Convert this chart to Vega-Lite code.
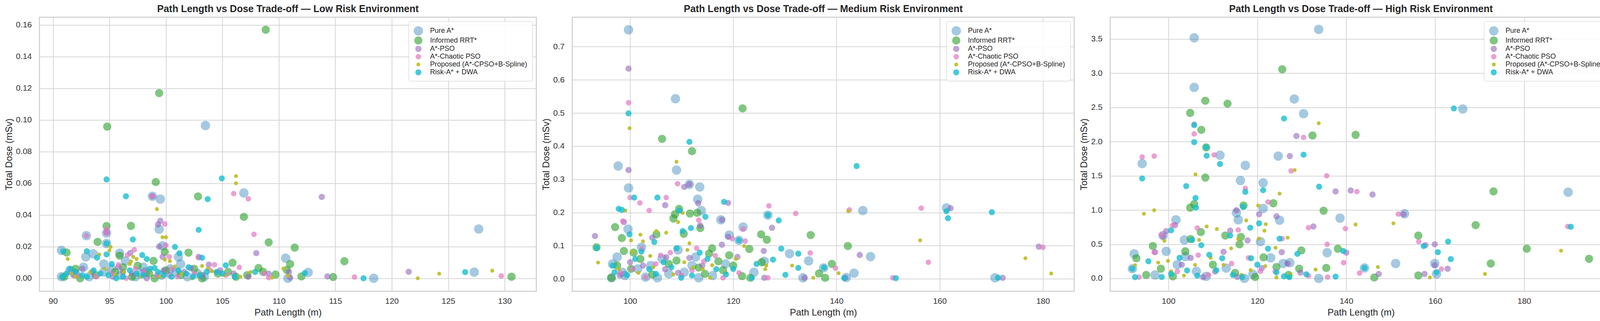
{
"$schema": "https://vega.github.io/schema/vega-lite/v6.json",
"background": "white",
"padding": {"left": 9, "top": 9, "right": 5, "bottom": 5},
"bounds": "flush",
"spacing": 92,
"config": {
  "font": "Liberation Sans",
  "view": {"stroke": "#cccccc", "strokeWidth": 2.5},
  "axis": {"grid": true, "gridColor": "#d5d5d5", "gridWidth": 2, "domain": false, "ticks": false, "tickSize": 0, "labelFontSize": 21, "labelColor": "#333333", "titleFontSize": 24, "titleFontWeight": "normal", "titleColor": "#262626"},
  "axisY": {"titlePadding": 5, "labelPadding": 20},
  "axisX": {"titlePadding": 7, "labelPadding": 14},
  "title": {"fontSize": 25, "fontWeight": "bold", "color": "#262626", "offset": 8},
  "legend": {"orient": "top-right", "offset": 10, "labelFontSize": 18, "labelLimit": 500, "labelColor": "#262626", "strokeColor": "#cccccc", "fillColor": "rgba(255,255,255,0.85)", "padding": 13, "cornerRadius": 4, "labelOffset": 18, "rowPadding": 2, "symbolStrokeWidth": 0}
},
"datasets": {"d": [
{"e":"Low","m":"Pure A*","x":103.5,"y":0.0965},{"e":"Low","m":"Pure A*","x":99.5,"y":0.05},{"e":"Low","m":"Pure A*","x":106.9,"y":0.0539},{"e":"Low","m":"Pure A*","x":98.8,"y":0.0518},{"e":"Low","m":"Pure A*","x":99.4,"y":0.031},{"e":"Low","m":"Pure A*","x":94.74,"y":0.0286},{"e":"Low","m":"Pure A*","x":92.95,"y":0.0269},{"e":"Low","m":"Pure A*","x":94.74,"y":0.022},{"e":"Low","m":"Pure A*","x":90.75,"y":0.0176},{"e":"Low","m":"Pure A*","x":93.56,"y":0.0155},{"e":"Low","m":"Pure A*","x":95.9,"y":0.0159},{"e":"Low","m":"Pure A*","x":92.9,"y":0.0135},{"e":"Low","m":"Pure A*","x":101.1,"y":0.0135},{"e":"Low","m":"Pure A*","x":101.3,"y":0.009},{"e":"Low","m":"Pure A*","x":110.6,"y":0.0127},{"e":"Low","m":"Pure A*","x":112.6,"y":0.0037},{"e":"Low","m":"Pure A*","x":110.8,"y":0.0},{"e":"Low","m":"Pure A*","x":118.4,"y":0.0},{"e":"Low","m":"Pure A*","x":127.3,"y":0.0039},{"e":"Low","m":"Pure A*","x":127.7,"y":0.0311},{"e":"Low","m":"Pure A*","x":90.75,"y":0.001},{"e":"Low","m":"Pure A*","x":92.0,"y":0.003},{"e":"Low","m":"Pure A*","x":93.2,"y":0.001},{"e":"Low","m":"Pure A*","x":94.5,"y":0.004},{"e":"Low","m":"Pure A*","x":96.0,"y":0.002},{"e":"Low","m":"Pure A*","x":97.3,"y":0.001},{"e":"Low","m":"Pure A*","x":98.2,"y":0.004},{"e":"Low","m":"Pure A*","x":99.6,"y":0.002},{"e":"Low","m":"Pure A*","x":100.4,"y":0.006},{"e":"Low","m":"Pure A*","x":101.9,"y":0.001},{"e":"Low","m":"Pure A*","x":102.8,"y":0.003},{"e":"Low","m":"Pure A*","x":99.7,"y":0.0205},{"e":"Low","m":"Pure A*","x":96.4,"y":0.011},{"e":"Low","m":"Pure A*","x":94.5,"y":0.009},{"e":"Low","m":"Pure A*","x":98.0,"y":0.007},{"e":"Low","m":"Pure A*","x":91.5,"y":0.005},{"e":"Low","m":"Pure A*","x":95.2,"y":0.006},{"e":"Low","m":"Pure A*","x":97.8,"y":0.003},{"e":"Low","m":"Pure A*","x":100.9,"y":0.004},{"e":"Low","m":"Pure A*","x":103.4,"y":0.001},{"e":"Low","m":"Pure A*","x":92.7,"y":0.007},
{"e":"Low","m":"Informed RRT*","x":108.84,"y":0.157},{"e":"Low","m":"Informed RRT*","x":99.4,"y":0.117},{"e":"Low","m":"Informed RRT*","x":94.8,"y":0.0958},{"e":"Low","m":"Informed RRT*","x":99.1,"y":0.0608},{"e":"Low","m":"Informed RRT*","x":102.84,"y":0.0517},{"e":"Low","m":"Informed RRT*","x":106.9,"y":0.0388},{"e":"Low","m":"Informed RRT*","x":96.9,"y":0.0331},{"e":"Low","m":"Informed RRT*","x":94.74,"y":0.033},{"e":"Low","m":"Informed RRT*","x":93.95,"y":0.023},{"e":"Low","m":"Informed RRT*","x":109.1,"y":0.0227},{"e":"Low","m":"Informed RRT*","x":111.4,"y":0.0194},{"e":"Low","m":"Informed RRT*","x":91.2,"y":0.0163},{"e":"Low","m":"Informed RRT*","x":95.9,"y":0.0143},{"e":"Low","m":"Informed RRT*","x":99.9,"y":0.0167},{"e":"Low","m":"Informed RRT*","x":102.0,"y":0.0162},{"e":"Low","m":"Informed RRT*","x":98.9,"y":0.011},{"e":"Low","m":"Informed RRT*","x":111.0,"y":0.009},{"e":"Low","m":"Informed RRT*","x":115.8,"y":0.0108},{"e":"Low","m":"Informed RRT*","x":105.9,"y":0.0098},{"e":"Low","m":"Informed RRT*","x":108.2,"y":0.0065},{"e":"Low","m":"Informed RRT*","x":108.6,"y":0.0041},{"e":"Low","m":"Informed RRT*","x":109.7,"y":0.0024},{"e":"Low","m":"Informed RRT*","x":112.0,"y":0.0012},{"e":"Low","m":"Informed RRT*","x":114.8,"y":0.0008},{"e":"Low","m":"Informed RRT*","x":130.6,"y":0.001},{"e":"Low","m":"Informed RRT*","x":91.0,"y":0.001},{"e":"Low","m":"Informed RRT*","x":92.4,"y":0.0},{"e":"Low","m":"Informed RRT*","x":93.8,"y":0.002},{"e":"Low","m":"Informed RRT*","x":95.5,"y":0.004},{"e":"Low","m":"Informed RRT*","x":97.0,"y":0.001},{"e":"Low","m":"Informed RRT*","x":98.5,"y":0.003},{"e":"Low","m":"Informed RRT*","x":100.0,"y":0.005},{"e":"Low","m":"Informed RRT*","x":101.3,"y":0.002},{"e":"Low","m":"Informed RRT*","x":103.2,"y":0.0},{"e":"Low","m":"Informed RRT*","x":104.6,"y":0.003},{"e":"Low","m":"Informed RRT*","x":106.2,"y":0.001},{"e":"Low","m":"Informed RRT*","x":97.5,"y":0.008},{"e":"Low","m":"Informed RRT*","x":110.7,"y":0.0053},{"e":"Low","m":"Informed RRT*","x":92.0,"y":0.006},{"e":"Low","m":"Informed RRT*","x":96.2,"y":0.007},{"e":"Low","m":"Informed RRT*","x":99.0,"y":0.0},{"e":"Low","m":"Informed RRT*","x":102.5,"y":0.006},{"e":"Low","m":"Informed RRT*","x":105.5,"y":0.004},{"e":"Low","m":"Informed RRT*","x":107.2,"y":0.002},
{"e":"Low","m":"A*-PSO","x":113.8,"y":0.0514},{"e":"Low","m":"A*-PSO","x":98.8,"y":0.0518},{"e":"Low","m":"A*-PSO","x":99.5,"y":0.0363},{"e":"Low","m":"A*-PSO","x":99.4,"y":0.02},{"e":"Low","m":"A*-PSO","x":96.85,"y":0.016},{"e":"Low","m":"A*-PSO","x":99.7,"y":0.0135},{"e":"Low","m":"A*-PSO","x":102.9,"y":0.0135},{"e":"Low","m":"A*-PSO","x":108.0,"y":0.0159},{"e":"Low","m":"A*-PSO","x":103.8,"y":0.0086},{"e":"Low","m":"A*-PSO","x":109.1,"y":0.0029},{"e":"Low","m":"A*-PSO","x":111.0,"y":0.0004},{"e":"Low","m":"A*-PSO","x":114.3,"y":0.0012},{"e":"Low","m":"A*-PSO","x":121.5,"y":0.0041},{"e":"Low","m":"A*-PSO","x":94.74,"y":0.029},{"e":"Low","m":"A*-PSO","x":99.3,"y":0.034},{"e":"Low","m":"A*-PSO","x":91.8,"y":0.002},{"e":"Low","m":"A*-PSO","x":93.5,"y":0.004},{"e":"Low","m":"A*-PSO","x":95.3,"y":0.001},{"e":"Low","m":"A*-PSO","x":97.0,"y":0.003},{"e":"Low","m":"A*-PSO","x":98.3,"y":0.0},{"e":"Low","m":"A*-PSO","x":100.3,"y":0.002},{"e":"Low","m":"A*-PSO","x":101.6,"y":0.004},{"e":"Low","m":"A*-PSO","x":104.8,"y":0.005},{"e":"Low","m":"A*-PSO","x":106.0,"y":0.003},{"e":"Low","m":"A*-PSO","x":107.3,"y":0.001},{"e":"Low","m":"A*-PSO","x":95.8,"y":0.007},{"e":"Low","m":"A*-PSO","x":102.2,"y":0.0065},{"e":"Low","m":"A*-PSO","x":110.9,"y":0.004},{"e":"Low","m":"A*-PSO","x":92.6,"y":0.006},{"e":"Low","m":"A*-PSO","x":96.2,"y":0.004},{"e":"Low","m":"A*-PSO","x":99.8,"y":0.005},{"e":"Low","m":"A*-PSO","x":103.2,"y":0.002},
{"e":"Low","m":"A*-Chaotic PSO","x":106.0,"y":0.0535},{"e":"Low","m":"A*-Chaotic PSO","x":107.3,"y":0.0502},{"e":"Low","m":"A*-Chaotic PSO","x":98.8,"y":0.0518},{"e":"Low","m":"A*-Chaotic PSO","x":99.9,"y":0.0343},{"e":"Low","m":"A*-Chaotic PSO","x":94.74,"y":0.031},{"e":"Low","m":"A*-Chaotic PSO","x":94.74,"y":0.0285},{"e":"Low","m":"A*-Chaotic PSO","x":92.95,"y":0.0269},{"e":"Low","m":"A*-Chaotic PSO","x":107.8,"y":0.0278},{"e":"Low","m":"A*-Chaotic PSO","x":100.0,"y":0.0208},{"e":"Low","m":"A*-Chaotic PSO","x":96.6,"y":0.0147},{"e":"Low","m":"A*-Chaotic PSO","x":100.3,"y":0.0135},{"e":"Low","m":"A*-Chaotic PSO","x":102.9,"y":0.013},{"e":"Low","m":"A*-Chaotic PSO","x":104.3,"y":0.0086},{"e":"Low","m":"A*-Chaotic PSO","x":106.5,"y":0.0069},{"e":"Low","m":"A*-Chaotic PSO","x":109.1,"y":0.0004},{"e":"Low","m":"A*-Chaotic PSO","x":116.7,"y":0.0008},{"e":"Low","m":"A*-Chaotic PSO","x":129.7,"y":0.0015},{"e":"Low","m":"A*-Chaotic PSO","x":97.2,"y":0.018},{"e":"Low","m":"A*-Chaotic PSO","x":92.2,"y":0.002},{"e":"Low","m":"A*-Chaotic PSO","x":93.8,"y":0.001},{"e":"Low","m":"A*-Chaotic PSO","x":95.2,"y":0.003},{"e":"Low","m":"A*-Chaotic PSO","x":96.5,"y":0.0},{"e":"Low","m":"A*-Chaotic PSO","x":98.0,"y":0.004},{"e":"Low","m":"A*-Chaotic PSO","x":99.2,"y":0.002},{"e":"Low","m":"A*-Chaotic PSO","x":101.0,"y":0.001},{"e":"Low","m":"A*-Chaotic PSO","x":102.5,"y":0.003},{"e":"Low","m":"A*-Chaotic PSO","x":103.9,"y":0.005},{"e":"Low","m":"A*-Chaotic PSO","x":105.3,"y":0.002},{"e":"Low","m":"A*-Chaotic PSO","x":108.7,"y":0.003},{"e":"Low","m":"A*-Chaotic PSO","x":95.8,"y":0.0085},{"e":"Low","m":"A*-Chaotic PSO","x":91.5,"y":0.004},{"e":"Low","m":"A*-Chaotic PSO","x":97.3,"y":0.006},{"e":"Low","m":"A*-Chaotic PSO","x":100.5,"y":0.006},{"e":"Low","m":"A*-Chaotic PSO","x":104.6,"y":0.004},
{"e":"Low","m":"Proposed (A*-CPSO+B-Spline)","x":106.2,"y":0.0645},{"e":"Low","m":"Proposed (A*-CPSO+B-Spline)","x":106.2,"y":0.06},{"e":"Low","m":"Proposed (A*-CPSO+B-Spline)","x":99.2,"y":0.0437},{"e":"Low","m":"Proposed (A*-CPSO+B-Spline)","x":99.7,"y":0.0259},{"e":"Low","m":"Proposed (A*-CPSO+B-Spline)","x":100.0,"y":0.0259},{"e":"Low","m":"Proposed (A*-CPSO+B-Spline)","x":95.1,"y":0.0198},{"e":"Low","m":"Proposed (A*-CPSO+B-Spline)","x":95.0,"y":0.0176},{"e":"Low","m":"Proposed (A*-CPSO+B-Spline)","x":94.1,"y":0.0151},{"e":"Low","m":"Proposed (A*-CPSO+B-Spline)","x":91.3,"y":0.0122},{"e":"Low","m":"Proposed (A*-CPSO+B-Spline)","x":97.4,"y":0.0122},{"e":"Low","m":"Proposed (A*-CPSO+B-Spline)","x":99.9,"y":0.0118},{"e":"Low","m":"Proposed (A*-CPSO+B-Spline)","x":100.35,"y":0.0108},{"e":"Low","m":"Proposed (A*-CPSO+B-Spline)","x":96.9,"y":0.0106},{"e":"Low","m":"Proposed (A*-CPSO+B-Spline)","x":96.8,"y":0.009},{"e":"Low","m":"Proposed (A*-CPSO+B-Spline)","x":103.2,"y":0.0078},{"e":"Low","m":"Proposed (A*-CPSO+B-Spline)","x":103.7,"y":0.0061},{"e":"Low","m":"Proposed (A*-CPSO+B-Spline)","x":104.1,"y":0.0045},{"e":"Low","m":"Proposed (A*-CPSO+B-Spline)","x":110.4,"y":0.0061},{"e":"Low","m":"Proposed (A*-CPSO+B-Spline)","x":109.4,"y":0.0004},{"e":"Low","m":"Proposed (A*-CPSO+B-Spline)","x":110.8,"y":0.0016},{"e":"Low","m":"Proposed (A*-CPSO+B-Spline)","x":122.3,"y":0.0},{"e":"Low","m":"Proposed (A*-CPSO+B-Spline)","x":124.2,"y":0.0029},{"e":"Low","m":"Proposed (A*-CPSO+B-Spline)","x":128.9,"y":0.0048},{"e":"Low","m":"Proposed (A*-CPSO+B-Spline)","x":92.0,"y":0.001},{"e":"Low","m":"Proposed (A*-CPSO+B-Spline)","x":93.3,"y":0.004},{"e":"Low","m":"Proposed (A*-CPSO+B-Spline)","x":95.5,"y":0.002},{"e":"Low","m":"Proposed (A*-CPSO+B-Spline)","x":97.8,"y":0.001},{"e":"Low","m":"Proposed (A*-CPSO+B-Spline)","x":98.6,"y":0.005},{"e":"Low","m":"Proposed (A*-CPSO+B-Spline)","x":101.4,"y":0.003},{"e":"Low","m":"Proposed (A*-CPSO+B-Spline)","x":102.3,"y":0.0},{"e":"Low","m":"Proposed (A*-CPSO+B-Spline)","x":105.2,"y":0.002},{"e":"Low","m":"Proposed (A*-CPSO+B-Spline)","x":107.5,"y":0.004},{"e":"Low","m":"Proposed (A*-CPSO+B-Spline)","x":94.6,"y":0.006},{"e":"Low","m":"Proposed (A*-CPSO+B-Spline)","x":100.8,"y":0.0075},{"e":"Low","m":"Proposed (A*-CPSO+B-Spline)","x":97.1,"y":0.0135},{"e":"Low","m":"Proposed (A*-CPSO+B-Spline)","x":91.7,"y":0.003},{"e":"Low","m":"Proposed (A*-CPSO+B-Spline)","x":96.3,"y":0.004},{"e":"Low","m":"Proposed (A*-CPSO+B-Spline)","x":99.5,"y":0.001},{"e":"Low","m":"Proposed (A*-CPSO+B-Spline)","x":103.0,"y":0.003},{"e":"Low","m":"Proposed (A*-CPSO+B-Spline)","x":106.6,"y":0.001},
{"e":"Low","m":"Risk-A* + DWA","x":94.74,"y":0.0624},{"e":"Low","m":"Risk-A* + DWA","x":104.95,"y":0.0631},{"e":"Low","m":"Risk-A* + DWA","x":96.46,"y":0.0518},{"e":"Low","m":"Risk-A* + DWA","x":103.7,"y":0.05},{"e":"Low","m":"Risk-A* + DWA","x":102.9,"y":0.0306},{"e":"Low","m":"Risk-A* + DWA","x":97.07,"y":0.0245},{"e":"Low","m":"Risk-A* + DWA","x":94.74,"y":0.022},{"e":"Low","m":"Risk-A* + DWA","x":100.8,"y":0.0198},{"e":"Low","m":"Risk-A* + DWA","x":93.0,"y":0.0171},{"e":"Low","m":"Risk-A* + DWA","x":94.74,"y":0.0151},{"e":"Low","m":"Risk-A* + DWA","x":93.9,"y":0.013},{"e":"Low","m":"Risk-A* + DWA","x":101.2,"y":0.0159},{"e":"Low","m":"Risk-A* + DWA","x":97.9,"y":0.0147},{"e":"Low","m":"Risk-A* + DWA","x":98.3,"y":0.0122},{"e":"Low","m":"Risk-A* + DWA","x":103.2,"y":0.013},{"e":"Low","m":"Risk-A* + DWA","x":105.3,"y":0.0082},{"e":"Low","m":"Risk-A* + DWA","x":107.9,"y":0.004},{"e":"Low","m":"Risk-A* + DWA","x":112.3,"y":0.0033},{"e":"Low","m":"Risk-A* + DWA","x":117.5,"y":0.0},{"e":"Low","m":"Risk-A* + DWA","x":126.5,"y":0.0039},{"e":"Low","m":"Risk-A* + DWA","x":90.8,"y":0.0008},{"e":"Low","m":"Risk-A* + DWA","x":92.0,"y":0.004},{"e":"Low","m":"Risk-A* + DWA","x":93.0,"y":0.001},{"e":"Low","m":"Risk-A* + DWA","x":94.2,"y":0.003},{"e":"Low","m":"Risk-A* + DWA","x":95.6,"y":0.0},{"e":"Low","m":"Risk-A* + DWA","x":96.8,"y":0.005},{"e":"Low","m":"Risk-A* + DWA","x":98.0,"y":0.002},{"e":"Low","m":"Risk-A* + DWA","x":99.3,"y":0.004},{"e":"Low","m":"Risk-A* + DWA","x":100.5,"y":0.001},{"e":"Low","m":"Risk-A* + DWA","x":101.8,"y":0.003},{"e":"Low","m":"Risk-A* + DWA","x":103.0,"y":0.002},{"e":"Low","m":"Risk-A* + DWA","x":104.5,"y":0.004},{"e":"Low","m":"Risk-A* + DWA","x":106.1,"y":0.001},{"e":"Low","m":"Risk-A* + DWA","x":91.5,"y":0.006},{"e":"Low","m":"Risk-A* + DWA","x":95.2,"y":0.009},{"e":"Low","m":"Risk-A* + DWA","x":99.0,"y":0.0065},{"e":"Low","m":"Risk-A* + DWA","x":102.0,"y":0.007},{"e":"Low","m":"Risk-A* + DWA","x":90.9,"y":0.017},{"e":"Low","m":"Risk-A* + DWA","x":91.2,"y":0.003},{"e":"Low","m":"Risk-A* + DWA","x":92.6,"y":0.002},{"e":"Low","m":"Risk-A* + DWA","x":93.6,"y":0.005},{"e":"Low","m":"Risk-A* + DWA","x":94.9,"y":0.002},{"e":"Low","m":"Risk-A* + DWA","x":96.2,"y":0.001},{"e":"Low","m":"Risk-A* + DWA","x":97.4,"y":0.003},{"e":"Low","m":"Risk-A* + DWA","x":98.6,"y":0.006},{"e":"Low","m":"Risk-A* + DWA","x":99.8,"y":0.002},{"e":"Low","m":"Risk-A* + DWA","x":101.1,"y":0.005},{"e":"Low","m":"Risk-A* + DWA","x":102.4,"y":0.001},{"e":"Low","m":"Risk-A* + DWA","x":103.6,"y":0.004},{"e":"Low","m":"Risk-A* + DWA","x":105.0,"y":0.003},

{"e":"Medium","m":"Pure A*","x":99.7,"y":0.751},{"e":"Medium","m":"Pure A*","x":108.8,"y":0.543},{"e":"Medium","m":"Pure A*","x":97.7,"y":0.34},{"e":"Medium","m":"Pure A*","x":109.0,"y":0.328},{"e":"Medium","m":"Pure A*","x":99.7,"y":0.274},{"e":"Medium","m":"Pure A*","x":113.5,"y":0.277},{"e":"Medium","m":"Pure A*","x":111.5,"y":0.285},{"e":"Medium","m":"Pure A*","x":113.1,"y":0.24},{"e":"Medium","m":"Pure A*","x":113.8,"y":0.206},{"e":"Medium","m":"Pure A*","x":117.6,"y":0.178},{"e":"Medium","m":"Pure A*","x":99.6,"y":0.15},{"e":"Medium","m":"Pure A*","x":126.7,"y":0.192},{"e":"Medium","m":"Pure A*","x":121.9,"y":0.156},{"e":"Medium","m":"Pure A*","x":145.1,"y":0.206},{"e":"Medium","m":"Pure A*","x":161.3,"y":0.214},{"e":"Medium","m":"Pure A*","x":146.6,"y":0.067},{"e":"Medium","m":"Pure A*","x":130.9,"y":0.076},{"e":"Medium","m":"Pure A*","x":134.6,"y":0.054},{"e":"Medium","m":"Pure A*","x":143.4,"y":0.017},{"e":"Medium","m":"Pure A*","x":137.5,"y":0.033},{"e":"Medium","m":"Pure A*","x":170.7,"y":0.003},{"e":"Medium","m":"Pure A*","x":126.0,"y":0.053},{"e":"Medium","m":"Pure A*","x":119.2,"y":0.132},{"e":"Medium","m":"Pure A*","x":121.1,"y":0.116},{"e":"Medium","m":"Pure A*","x":96.6,"y":0.045},{"e":"Medium","m":"Pure A*","x":97.5,"y":0.066},{"e":"Medium","m":"Pure A*","x":102.2,"y":0.095},{"e":"Medium","m":"Pure A*","x":106.2,"y":0.061},{"e":"Medium","m":"Pure A*","x":109.3,"y":0.087},{"e":"Medium","m":"Pure A*","x":112.7,"y":0.066},{"e":"Medium","m":"Pure A*","x":96.4,"y":0.003},{"e":"Medium","m":"Pure A*","x":105.3,"y":0.003},{"e":"Medium","m":"Pure A*","x":113.3,"y":0.003},{"e":"Medium","m":"Pure A*","x":141.9,"y":0.004},{"e":"Medium","m":"Pure A*","x":133.5,"y":0.003},{"e":"Medium","m":"Pure A*","x":98.5,"y":0.02},{"e":"Medium","m":"Pure A*","x":101.5,"y":0.03},{"e":"Medium","m":"Pure A*","x":104.0,"y":0.04},{"e":"Medium","m":"Pure A*","x":110.5,"y":0.02},{"e":"Medium","m":"Pure A*","x":116.0,"y":0.01},{"e":"Medium","m":"Pure A*","x":99.0,"y":0.01},{"e":"Medium","m":"Pure A*","x":103.0,"y":0.005},{"e":"Medium","m":"Pure A*","x":107.5,"y":0.015},{"e":"Medium","m":"Pure A*","x":112.0,"y":0.04},{"e":"Medium","m":"Pure A*","x":118.5,"y":0.045},{"e":"Medium","m":"Pure A*","x":124.0,"y":0.02},
{"e":"Medium","m":"Informed RRT*","x":121.8,"y":0.514},{"e":"Medium","m":"Informed RRT*","x":106.2,"y":0.422},{"e":"Medium","m":"Informed RRT*","x":112.0,"y":0.385},{"e":"Medium","m":"Informed RRT*","x":109.5,"y":0.211},{"e":"Medium","m":"Informed RRT*","x":108.7,"y":0.195},{"e":"Medium","m":"Informed RRT*","x":111.6,"y":0.197},{"e":"Medium","m":"Informed RRT*","x":113.0,"y":0.199},{"e":"Medium","m":"Informed RRT*","x":113.6,"y":0.153},{"e":"Medium","m":"Informed RRT*","x":108.4,"y":0.182},{"e":"Medium","m":"Informed RRT*","x":97.1,"y":0.156},{"e":"Medium","m":"Informed RRT*","x":98.4,"y":0.123},{"e":"Medium","m":"Informed RRT*","x":105.1,"y":0.134},{"e":"Medium","m":"Informed RRT*","x":110.4,"y":0.136},{"e":"Medium","m":"Informed RRT*","x":125.4,"y":0.134},{"e":"Medium","m":"Informed RRT*","x":126.5,"y":0.118},{"e":"Medium","m":"Informed RRT*","x":135.0,"y":0.132},{"e":"Medium","m":"Informed RRT*","x":142.2,"y":0.099},{"e":"Medium","m":"Informed RRT*","x":139.1,"y":0.045},{"e":"Medium","m":"Informed RRT*","x":115.9,"y":0.092},{"e":"Medium","m":"Informed RRT*","x":115.3,"y":0.076},{"e":"Medium","m":"Informed RRT*","x":117.1,"y":0.053},{"e":"Medium","m":"Informed RRT*","x":119.2,"y":0.071},{"e":"Medium","m":"Informed RRT*","x":123.1,"y":0.09},{"e":"Medium","m":"Informed RRT*","x":98.8,"y":0.084},{"e":"Medium","m":"Informed RRT*","x":100.7,"y":0.079},{"e":"Medium","m":"Informed RRT*","x":118.0,"y":0.026},{"e":"Medium","m":"Informed RRT*","x":121.7,"y":0.008},{"e":"Medium","m":"Informed RRT*","x":136.6,"y":0.016},{"e":"Medium","m":"Informed RRT*","x":113.3,"y":0.034},{"e":"Medium","m":"Informed RRT*","x":104.3,"y":0.013},{"e":"Medium","m":"Informed RRT*","x":96.4,"y":0.003},{"e":"Medium","m":"Informed RRT*","x":93.5,"y":0.095},{"e":"Medium","m":"Informed RRT*","x":123.3,"y":0.003},{"e":"Medium","m":"Informed RRT*","x":137.8,"y":0.003},{"e":"Medium","m":"Informed RRT*","x":100.2,"y":0.03},{"e":"Medium","m":"Informed RRT*","x":107.5,"y":0.045},{"e":"Medium","m":"Informed RRT*","x":97.5,"y":0.04},{"e":"Medium","m":"Informed RRT*","x":102.0,"y":0.06},{"e":"Medium","m":"Informed RRT*","x":109.0,"y":0.055},{"e":"Medium","m":"Informed RRT*","x":114.5,"y":0.015},{"e":"Medium","m":"Informed RRT*","x":120.0,"y":0.04},{"e":"Medium","m":"Informed RRT*","x":125.5,"y":0.05},
{"e":"Medium","m":"A*-PSO","x":99.7,"y":0.634},{"e":"Medium","m":"A*-PSO","x":99.7,"y":0.328},{"e":"Medium","m":"A*-PSO","x":110.5,"y":0.277},{"e":"Medium","m":"A*-PSO","x":111.5,"y":0.285},{"e":"Medium","m":"A*-PSO","x":106.8,"y":0.222},{"e":"Medium","m":"A*-PSO","x":113.2,"y":0.228},{"e":"Medium","m":"A*-PSO","x":119.0,"y":0.229},{"e":"Medium","m":"A*-PSO","x":117.8,"y":0.178},{"e":"Medium","m":"A*-PSO","x":127.5,"y":0.154},{"e":"Medium","m":"A*-PSO","x":162.1,"y":0.213},{"e":"Medium","m":"A*-PSO","x":93.2,"y":0.129},{"e":"Medium","m":"A*-PSO","x":179.2,"y":0.097},{"e":"Medium","m":"A*-PSO","x":144.5,"y":0.072},{"e":"Medium","m":"A*-PSO","x":119.0,"y":0.127},{"e":"Medium","m":"A*-PSO","x":117.8,"y":0.103},{"e":"Medium","m":"A*-PSO","x":125.9,"y":0.084},{"e":"Medium","m":"A*-PSO","x":111.5,"y":0.063},{"e":"Medium","m":"A*-PSO","x":133.8,"y":0.003},{"e":"Medium","m":"A*-PSO","x":141.7,"y":0.003},{"e":"Medium","m":"A*-PSO","x":172.2,"y":0.003},{"e":"Medium","m":"A*-PSO","x":113.6,"y":0.161},{"e":"Medium","m":"A*-PSO","x":106.8,"y":0.029},{"e":"Medium","m":"A*-PSO","x":120.8,"y":0.066},{"e":"Medium","m":"A*-PSO","x":98.8,"y":0.171},{"e":"Medium","m":"A*-PSO","x":104.3,"y":0.124},{"e":"Medium","m":"A*-PSO","x":109.3,"y":0.018},{"e":"Medium","m":"A*-PSO","x":126.0,"y":0.003},{"e":"Medium","m":"A*-PSO","x":98.0,"y":0.01},{"e":"Medium","m":"A*-PSO","x":102.5,"y":0.04},{"e":"Medium","m":"A*-PSO","x":100.0,"y":0.05},{"e":"Medium","m":"A*-PSO","x":107.0,"y":0.065},{"e":"Medium","m":"A*-PSO","x":114.0,"y":0.04},
{"e":"Medium","m":"A*-Chaotic PSO","x":99.7,"y":0.531},{"e":"Medium","m":"A*-Chaotic PSO","x":109.2,"y":0.287},{"e":"Medium","m":"A*-Chaotic PSO","x":100.0,"y":0.245},{"e":"Medium","m":"A*-Chaotic PSO","x":101.9,"y":0.229},{"e":"Medium","m":"A*-Chaotic PSO","x":103.7,"y":0.206},{"e":"Medium","m":"A*-Chaotic PSO","x":107.0,"y":0.245},{"e":"Medium","m":"A*-Chaotic PSO","x":98.6,"y":0.174},{"e":"Medium","m":"A*-Chaotic PSO","x":113.3,"y":0.177},{"e":"Medium","m":"A*-Chaotic PSO","x":126.9,"y":0.22},{"e":"Medium","m":"A*-Chaotic PSO","x":132.1,"y":0.197},{"e":"Medium","m":"A*-Chaotic PSO","x":142.5,"y":0.208},{"e":"Medium","m":"A*-Chaotic PSO","x":156.4,"y":0.213},{"e":"Medium","m":"A*-Chaotic PSO","x":121.9,"y":0.15},{"e":"Medium","m":"A*-Chaotic PSO","x":122.3,"y":0.114},{"e":"Medium","m":"A*-Chaotic PSO","x":119.8,"y":0.121},{"e":"Medium","m":"A*-Chaotic PSO","x":180.0,"y":0.095},{"e":"Medium","m":"A*-Chaotic PSO","x":157.8,"y":0.05},{"e":"Medium","m":"A*-Chaotic PSO","x":134.9,"y":0.078},{"e":"Medium","m":"A*-Chaotic PSO","x":139.8,"y":0.032},{"e":"Medium","m":"A*-Chaotic PSO","x":112.9,"y":0.092},{"e":"Medium","m":"A*-Chaotic PSO","x":102.3,"y":0.09},{"e":"Medium","m":"A*-Chaotic PSO","x":105.9,"y":0.071},{"e":"Medium","m":"A*-Chaotic PSO","x":107.8,"y":0.079},{"e":"Medium","m":"A*-Chaotic PSO","x":150.9,"y":0.003},{"e":"Medium","m":"A*-Chaotic PSO","x":126.7,"y":0.003},{"e":"Medium","m":"A*-Chaotic PSO","x":118.0,"y":0.003},{"e":"Medium","m":"A*-Chaotic PSO","x":121.1,"y":0.018},{"e":"Medium","m":"A*-Chaotic PSO","x":114.3,"y":0.053},{"e":"Medium","m":"A*-Chaotic PSO","x":98.1,"y":0.018},{"e":"Medium","m":"A*-Chaotic PSO","x":103.0,"y":0.005},{"e":"Medium","m":"A*-Chaotic PSO","x":110.0,"y":0.01},{"e":"Medium","m":"A*-Chaotic PSO","x":100.5,"y":0.03},{"e":"Medium","m":"A*-Chaotic PSO","x":105.0,"y":0.045},{"e":"Medium","m":"A*-Chaotic PSO","x":112.0,"y":0.025},{"e":"Medium","m":"A*-Chaotic PSO","x":116.5,"y":0.07},
{"e":"Medium","m":"Proposed (A*-CPSO+B-Spline)","x":99.9,"y":0.454},{"e":"Medium","m":"Proposed (A*-CPSO+B-Spline)","x":109.0,"y":0.353},{"e":"Medium","m":"Proposed (A*-CPSO+B-Spline)","x":99.1,"y":0.206},{"e":"Medium","m":"Proposed (A*-CPSO+B-Spline)","x":109.3,"y":0.171},{"e":"Medium","m":"Proposed (A*-CPSO+B-Spline)","x":110.2,"y":0.199},{"e":"Medium","m":"Proposed (A*-CPSO+B-Spline)","x":142.3,"y":0.204},{"e":"Medium","m":"Proposed (A*-CPSO+B-Spline)","x":156.2,"y":0.116},{"e":"Medium","m":"Proposed (A*-CPSO+B-Spline)","x":176.6,"y":0.062},{"e":"Medium","m":"Proposed (A*-CPSO+B-Spline)","x":181.6,"y":0.016},{"e":"Medium","m":"Proposed (A*-CPSO+B-Spline)","x":93.8,"y":0.049},{"e":"Medium","m":"Proposed (A*-CPSO+B-Spline)","x":102.0,"y":0.133},{"e":"Medium","m":"Proposed (A*-CPSO+B-Spline)","x":107.0,"y":0.139},{"e":"Medium","m":"Proposed (A*-CPSO+B-Spline)","x":105.1,"y":0.144},{"e":"Medium","m":"Proposed (A*-CPSO+B-Spline)","x":100.2,"y":0.116},{"e":"Medium","m":"Proposed (A*-CPSO+B-Spline)","x":102.5,"y":0.113},{"e":"Medium","m":"Proposed (A*-CPSO+B-Spline)","x":111.5,"y":0.107},{"e":"Medium","m":"Proposed (A*-CPSO+B-Spline)","x":111.1,"y":0.087},{"e":"Medium","m":"Proposed (A*-CPSO+B-Spline)","x":100.5,"y":0.082},{"e":"Medium","m":"Proposed (A*-CPSO+B-Spline)","x":103.9,"y":0.069},{"e":"Medium","m":"Proposed (A*-CPSO+B-Spline)","x":115.9,"y":0.041},{"e":"Medium","m":"Proposed (A*-CPSO+B-Spline)","x":122.1,"y":0.099},{"e":"Medium","m":"Proposed (A*-CPSO+B-Spline)","x":131.4,"y":0.04},{"e":"Medium","m":"Proposed (A*-CPSO+B-Spline)","x":126.4,"y":0.04},{"e":"Medium","m":"Proposed (A*-CPSO+B-Spline)","x":126.2,"y":0.029},{"e":"Medium","m":"Proposed (A*-CPSO+B-Spline)","x":140.4,"y":0.017},{"e":"Medium","m":"Proposed (A*-CPSO+B-Spline)","x":135.5,"y":0.003},{"e":"Medium","m":"Proposed (A*-CPSO+B-Spline)","x":115.5,"y":0.003},{"e":"Medium","m":"Proposed (A*-CPSO+B-Spline)","x":97.8,"y":0.029},{"e":"Medium","m":"Proposed (A*-CPSO+B-Spline)","x":101.6,"y":0.018},{"e":"Medium","m":"Proposed (A*-CPSO+B-Spline)","x":108.4,"y":0.013},{"e":"Medium","m":"Proposed (A*-CPSO+B-Spline)","x":118.6,"y":0.018},{"e":"Medium","m":"Proposed (A*-CPSO+B-Spline)","x":112.2,"y":0.034},{"e":"Medium","m":"Proposed (A*-CPSO+B-Spline)","x":114.1,"y":0.029},{"e":"Medium","m":"Proposed (A*-CPSO+B-Spline)","x":104.5,"y":0.035},{"e":"Medium","m":"Proposed (A*-CPSO+B-Spline)","x":110.5,"y":0.05},{"e":"Medium","m":"Proposed (A*-CPSO+B-Spline)","x":120.5,"y":0.06},
{"e":"Medium","m":"Risk-A* + DWA","x":99.7,"y":0.499},{"e":"Medium","m":"Risk-A* + DWA","x":111.5,"y":0.413},{"e":"Medium","m":"Risk-A* + DWA","x":143.9,"y":0.34},{"e":"Medium","m":"Risk-A* + DWA","x":100.8,"y":0.245},{"e":"Medium","m":"Risk-A* + DWA","x":105.3,"y":0.245},{"e":"Medium","m":"Risk-A* + DWA","x":97.8,"y":0.211},{"e":"Medium","m":"Risk-A* + DWA","x":98.4,"y":0.208},{"e":"Medium","m":"Risk-A* + DWA","x":118.2,"y":0.232},{"e":"Medium","m":"Risk-A* + DWA","x":114.6,"y":0.187},{"e":"Medium","m":"Risk-A* + DWA","x":109.6,"y":0.206},{"e":"Medium","m":"Risk-A* + DWA","x":128.8,"y":0.176},{"e":"Medium","m":"Risk-A* + DWA","x":126.7,"y":0.192},{"e":"Medium","m":"Risk-A* + DWA","x":161.3,"y":0.204},{"e":"Medium","m":"Risk-A* + DWA","x":161.6,"y":0.183},{"e":"Medium","m":"Risk-A* + DWA","x":170.1,"y":0.201},{"e":"Medium","m":"Risk-A* + DWA","x":99.9,"y":0.134},{"e":"Medium","m":"Risk-A* + DWA","x":110.2,"y":0.144},{"e":"Medium","m":"Risk-A* + DWA","x":111.8,"y":0.153},{"e":"Medium","m":"Risk-A* + DWA","x":104.7,"y":0.111},{"e":"Medium","m":"Risk-A* + DWA","x":121.1,"y":0.116},{"e":"Medium","m":"Risk-A* + DWA","x":129.3,"y":0.091},{"e":"Medium","m":"Risk-A* + DWA","x":132.6,"y":0.076},{"e":"Medium","m":"Risk-A* + DWA","x":127.7,"y":0.058},{"e":"Medium","m":"Risk-A* + DWA","x":132.6,"y":0.033},{"e":"Medium","m":"Risk-A* + DWA","x":130.1,"y":0.012},{"e":"Medium","m":"Risk-A* + DWA","x":137.6,"y":0.034},{"e":"Medium","m":"Risk-A* + DWA","x":151.5,"y":0.002},{"e":"Medium","m":"Risk-A* + DWA","x":171.3,"y":0.003},{"e":"Medium","m":"Risk-A* + DWA","x":93.5,"y":0.093},{"e":"Medium","m":"Risk-A* + DWA","x":102.2,"y":0.082},{"e":"Medium","m":"Risk-A* + DWA","x":109.0,"y":0.092},{"e":"Medium","m":"Risk-A* + DWA","x":113.5,"y":0.079},{"e":"Medium","m":"Risk-A* + DWA","x":116.7,"y":0.029},{"e":"Medium","m":"Risk-A* + DWA","x":118.6,"y":0.013},{"e":"Medium","m":"Risk-A* + DWA","x":96.6,"y":0.04},{"e":"Medium","m":"Risk-A* + DWA","x":99.4,"y":0.011},{"e":"Medium","m":"Risk-A* + DWA","x":109.9,"y":0.003},{"e":"Medium","m":"Risk-A* + DWA","x":103.7,"y":0.029},{"e":"Medium","m":"Risk-A* + DWA","x":123.6,"y":0.003},{"e":"Medium","m":"Risk-A* + DWA","x":141.5,"y":0.002},{"e":"Medium","m":"Risk-A* + DWA","x":106.5,"y":0.05},{"e":"Medium","m":"Risk-A* + DWA","x":97.0,"y":0.02},{"e":"Medium","m":"Risk-A* + DWA","x":101.0,"y":0.06},{"e":"Medium","m":"Risk-A* + DWA","x":105.0,"y":0.015},{"e":"Medium","m":"Risk-A* + DWA","x":108.0,"y":0.035},{"e":"Medium","m":"Risk-A* + DWA","x":112.0,"y":0.01},{"e":"Medium","m":"Risk-A* + DWA","x":115.0,"y":0.06},{"e":"Medium","m":"Risk-A* + DWA","x":120.0,"y":0.03},{"e":"Medium","m":"Risk-A* + DWA","x":124.5,"y":0.045},

{"e":"High","m":"Pure A*","x":133.8,"y":3.641},{"e":"High","m":"Pure A*","x":105.8,"y":3.518},{"e":"High","m":"Pure A*","x":105.8,"y":2.793},{"e":"High","m":"Pure A*","x":128.3,"y":2.624},{"e":"High","m":"Pure A*","x":130.4,"y":2.409},{"e":"High","m":"Pure A*","x":166.2,"y":2.478},{"e":"High","m":"Pure A*","x":111.6,"y":1.801},{"e":"High","m":"Pure A*","x":94.1,"y":1.679},{"e":"High","m":"Pure A*","x":117.3,"y":1.653},{"e":"High","m":"Pure A*","x":124.7,"y":1.788},{"e":"High","m":"Pure A*","x":116.2,"y":1.431},{"e":"High","m":"Pure A*","x":121.3,"y":1.398},{"e":"High","m":"Pure A*","x":189.9,"y":1.26},{"e":"High","m":"Pure A*","x":101.7,"y":0.856},{"e":"High","m":"Pure A*","x":121.3,"y":1.022},{"e":"High","m":"Pure A*","x":115.7,"y":0.856},{"e":"High","m":"Pure A*","x":125.0,"y":0.851},{"e":"High","m":"Pure A*","x":138.6,"y":0.881},{"e":"High","m":"Pure A*","x":153.1,"y":0.945},{"e":"High","m":"Pure A*","x":115.3,"y":0.958},{"e":"High","m":"Pure A*","x":120.7,"y":0.537},{"e":"High","m":"Pure A*","x":135.7,"y":0.376},{"e":"High","m":"Pure A*","x":151.1,"y":0.217},{"e":"High","m":"Pure A*","x":159.9,"y":0.217},{"e":"High","m":"Pure A*","x":98.8,"y":0.626},{"e":"High","m":"Pure A*","x":92.3,"y":0.358},{"e":"High","m":"Pure A*","x":91.9,"y":0.141},{"e":"High","m":"Pure A*","x":125.8,"y":0.217},{"e":"High","m":"Pure A*","x":127.3,"y":0.23},{"e":"High","m":"Pure A*","x":103.6,"y":0.562},{"e":"High","m":"Pure A*","x":106.3,"y":0.102},{"e":"High","m":"Pure A*","x":117.1,"y":0.0},{"e":"High","m":"Pure A*","x":133.8,"y":0.0},{"e":"High","m":"Pure A*","x":144.1,"y":0.153},{"e":"High","m":"Pure A*","x":160.3,"y":0.064},{"e":"High","m":"Pure A*","x":99.5,"y":0.396},{"e":"High","m":"Pure A*","x":103.8,"y":0.319},{"e":"High","m":"Pure A*","x":97.0,"y":0.05},{"e":"High","m":"Pure A*","x":102.0,"y":0.2},{"e":"High","m":"Pure A*","x":108.5,"y":0.03},{"e":"High","m":"Pure A*","x":113.0,"y":0.15},{"e":"High","m":"Pure A*","x":119.0,"y":0.06},{"e":"High","m":"Pure A*","x":123.0,"y":0.3},
{"e":"High","m":"Informed RRT*","x":125.6,"y":3.058},{"e":"High","m":"Informed RRT*","x":108.3,"y":2.598},{"e":"High","m":"Informed RRT*","x":113.3,"y":2.555},{"e":"High","m":"Informed RRT*","x":104.9,"y":2.42},{"e":"High","m":"Informed RRT*","x":107.4,"y":2.172},{"e":"High","m":"Informed RRT*","x":132.4,"y":2.09},{"e":"High","m":"Informed RRT*","x":142.1,"y":2.1},{"e":"High","m":"Informed RRT*","x":108.5,"y":1.916},{"e":"High","m":"Informed RRT*","x":108.3,"y":1.474},{"e":"High","m":"Informed RRT*","x":173.1,"y":1.272},{"e":"High","m":"Informed RRT*","x":123.6,"y":1.099},{"e":"High","m":"Informed RRT*","x":116.9,"y":1.065},{"e":"High","m":"Informed RRT*","x":105.8,"y":1.086},{"e":"High","m":"Informed RRT*","x":104.9,"y":1.035},{"e":"High","m":"Informed RRT*","x":134.9,"y":0.989},{"e":"High","m":"Informed RRT*","x":169.1,"y":0.779},{"e":"High","m":"Informed RRT*","x":156.2,"y":0.626},{"e":"High","m":"Informed RRT*","x":180.6,"y":0.434},{"e":"High","m":"Informed RRT*","x":194.6,"y":0.286},{"e":"High","m":"Informed RRT*","x":172.5,"y":0.217},{"e":"High","m":"Informed RRT*","x":146.3,"y":0.013},{"e":"High","m":"Informed RRT*","x":156.2,"y":0.043},{"e":"High","m":"Informed RRT*","x":96.5,"y":0.473},{"e":"High","m":"Informed RRT*","x":116.3,"y":0.606},{"e":"High","m":"Informed RRT*","x":112.8,"y":0.626},{"e":"High","m":"Informed RRT*","x":107.3,"y":0.677},{"e":"High","m":"Informed RRT*","x":105.0,"y":0.575},{"e":"High","m":"Informed RRT*","x":129.9,"y":0.409},{"e":"High","m":"Informed RRT*","x":138.1,"y":0.434},{"e":"High","m":"Informed RRT*","x":135.5,"y":0.153},{"e":"High","m":"Informed RRT*","x":92.8,"y":0.294},{"e":"High","m":"Informed RRT*","x":98.3,"y":0.141},{"e":"High","m":"Informed RRT*","x":116.0,"y":0.498},{"e":"High","m":"Informed RRT*","x":121.4,"y":0.307},{"e":"High","m":"Informed RRT*","x":103.8,"y":0.396},{"e":"High","m":"Informed RRT*","x":129.4,"y":0.141},{"e":"High","m":"Informed RRT*","x":124.3,"y":0.166},{"e":"High","m":"Informed RRT*","x":95.0,"y":0.05},{"e":"High","m":"Informed RRT*","x":101.0,"y":0.03},{"e":"High","m":"Informed RRT*","x":110.0,"y":0.2},{"e":"High","m":"Informed RRT*","x":115.0,"y":0.08},{"e":"High","m":"Informed RRT*","x":119.5,"y":0.02},{"e":"High","m":"Informed RRT*","x":127.0,"y":0.05},
{"e":"High","m":"A*-PSO","x":128.8,"y":2.082},{"e":"High","m":"A*-PSO","x":127.3,"y":1.788},{"e":"High","m":"A*-PSO","x":137.6,"y":1.272},{"e":"High","m":"A*-PSO","x":141.0,"y":1.285},{"e":"High","m":"A*-PSO","x":145.9,"y":1.226},{"e":"High","m":"A*-PSO","x":152.9,"y":0.938},{"e":"High","m":"A*-PSO","x":132.6,"y":0.759},{"e":"High","m":"A*-PSO","x":124.3,"y":0.907},{"e":"High","m":"A*-PSO","x":120.4,"y":0.938},{"e":"High","m":"A*-PSO","x":115.3,"y":0.996},{"e":"High","m":"A*-PSO","x":113.9,"y":0.697},{"e":"High","m":"A*-PSO","x":99.5,"y":0.69},{"e":"High","m":"A*-PSO","x":98.8,"y":0.613},{"e":"High","m":"A*-PSO","x":101.5,"y":0.779},{"e":"High","m":"A*-PSO","x":157.8,"y":0.485},{"e":"High","m":"A*-PSO","x":159.9,"y":0.498},{"e":"High","m":"A*-PSO","x":140.0,"y":0.376},{"e":"High","m":"A*-PSO","x":162.8,"y":0.141},{"e":"High","m":"A*-PSO","x":147.3,"y":0.064},{"e":"High","m":"A*-PSO","x":157.6,"y":0.064},{"e":"High","m":"A*-PSO","x":125.5,"y":0.383},{"e":"High","m":"A*-PSO","x":112.4,"y":0.388},{"e":"High","m":"A*-PSO","x":97.0,"y":0.383},{"e":"High","m":"A*-PSO","x":117.8,"y":0.554},{"e":"High","m":"A*-PSO","x":129.7,"y":0.084},{"e":"High","m":"A*-PSO","x":107.8,"y":0.018},{"e":"High","m":"A*-PSO","x":159.9,"y":0.192},{"e":"High","m":"A*-PSO","x":126.8,"y":0.217},{"e":"High","m":"A*-PSO","x":103.0,"y":0.2},{"e":"High","m":"A*-PSO","x":110.5,"y":0.1},{"e":"High","m":"A*-PSO","x":105.0,"y":0.3},{"e":"High","m":"A*-PSO","x":115.5,"y":0.02},{"e":"High","m":"A*-PSO","x":121.0,"y":0.15},
{"e":"High","m":"A*-Chaotic PSO","x":94.1,"y":1.776},{"e":"High","m":"A*-Chaotic PSO","x":96.8,"y":1.788},{"e":"High","m":"A*-Chaotic PSO","x":110.3,"y":1.806},{"e":"High","m":"A*-Chaotic PSO","x":105.8,"y":2.256},{"e":"High","m":"A*-Chaotic PSO","x":105.8,"y":2.113},{"e":"High","m":"A*-Chaotic PSO","x":130.4,"y":2.062},{"e":"High","m":"A*-Chaotic PSO","x":127.6,"y":1.571},{"e":"High","m":"A*-Chaotic PSO","x":135.6,"y":1.5},{"e":"High","m":"A*-Chaotic PSO","x":117.3,"y":1.316},{"e":"High","m":"A*-Chaotic PSO","x":142.4,"y":1.27},{"e":"High","m":"A*-Chaotic PSO","x":122.4,"y":1.117},{"e":"High","m":"A*-Chaotic PSO","x":151.7,"y":0.94},{"e":"High","m":"A*-Chaotic PSO","x":189.8,"y":0.759},{"e":"High","m":"A*-Chaotic PSO","x":131.5,"y":0.741},{"e":"High","m":"A*-Chaotic PSO","x":139.8,"y":0.728},{"e":"High","m":"A*-Chaotic PSO","x":115.7,"y":0.708},{"e":"High","m":"A*-Chaotic PSO","x":106.5,"y":0.736},{"e":"High","m":"A*-Chaotic PSO","x":100.9,"y":0.774},{"e":"High","m":"A*-Chaotic PSO","x":98.4,"y":0.639},{"e":"High","m":"A*-Chaotic PSO","x":125.6,"y":0.58},{"e":"High","m":"A*-Chaotic PSO","x":135.7,"y":0.498},{"e":"High","m":"A*-Chaotic PSO","x":156.3,"y":0.537},{"e":"High","m":"A*-Chaotic PSO","x":139.4,"y":0.23},{"e":"High","m":"A*-Chaotic PSO","x":143.0,"y":0.077},{"e":"High","m":"A*-Chaotic PSO","x":161.4,"y":0.135},{"e":"High","m":"A*-Chaotic PSO","x":93.4,"y":0.018},{"e":"High","m":"A*-Chaotic PSO","x":106.7,"y":0.34},{"e":"High","m":"A*-Chaotic PSO","x":114.2,"y":0.217},{"e":"High","m":"A*-Chaotic PSO","x":120.7,"y":0.102},{"e":"High","m":"A*-Chaotic PSO","x":131.5,"y":0.038},{"e":"High","m":"A*-Chaotic PSO","x":135.8,"y":0.018},{"e":"High","m":"A*-Chaotic PSO","x":96.8,"y":0.383},{"e":"High","m":"A*-Chaotic PSO","x":102.0,"y":0.1},{"e":"High","m":"A*-Chaotic PSO","x":109.0,"y":0.05},{"e":"High","m":"A*-Chaotic PSO","x":118.0,"y":0.3},{"e":"High","m":"A*-Chaotic PSO","x":124.0,"y":0.1},
{"e":"High","m":"Proposed (A*-CPSO+B-Spline)","x":133.8,"y":2.269},{"e":"High","m":"Proposed (A*-CPSO+B-Spline)","x":128.4,"y":1.584},{"e":"High","m":"Proposed (A*-CPSO+B-Spline)","x":106.1,"y":1.52},{"e":"High","m":"Proposed (A*-CPSO+B-Spline)","x":125.0,"y":1.239},{"e":"High","m":"Proposed (A*-CPSO+B-Spline)","x":94.5,"y":0.945},{"e":"High","m":"Proposed (A*-CPSO+B-Spline)","x":96.8,"y":0.996},{"e":"High","m":"Proposed (A*-CPSO+B-Spline)","x":120.2,"y":1.065},{"e":"High","m":"Proposed (A*-CPSO+B-Spline)","x":121.9,"y":0.792},{"e":"High","m":"Proposed (A*-CPSO+B-Spline)","x":121.6,"y":0.697},{"e":"High","m":"Proposed (A*-CPSO+B-Spline)","x":117.5,"y":0.848},{"e":"High","m":"Proposed (A*-CPSO+B-Spline)","x":108.6,"y":0.759},{"e":"High","m":"Proposed (A*-CPSO+B-Spline)","x":110.9,"y":0.721},{"e":"High","m":"Proposed (A*-CPSO+B-Spline)","x":142.1,"y":0.787},{"e":"High","m":"Proposed (A*-CPSO+B-Spline)","x":150.6,"y":0.805},{"e":"High","m":"Proposed (A*-CPSO+B-Spline)","x":188.3,"y":0.404},{"e":"High","m":"Proposed (A*-CPSO+B-Spline)","x":171.2,"y":0.064},{"e":"High","m":"Proposed (A*-CPSO+B-Spline)","x":158.8,"y":0.013},{"e":"High","m":"Proposed (A*-CPSO+B-Spline)","x":147.1,"y":0.166},{"e":"High","m":"Proposed (A*-CPSO+B-Spline)","x":126.8,"y":0.595},{"e":"High","m":"Proposed (A*-CPSO+B-Spline)","x":124.1,"y":0.447},{"e":"High","m":"Proposed (A*-CPSO+B-Spline)","x":120.4,"y":0.58},{"e":"High","m":"Proposed (A*-CPSO+B-Spline)","x":114.1,"y":0.439},{"e":"High","m":"Proposed (A*-CPSO+B-Spline)","x":115.7,"y":0.575},{"e":"High","m":"Proposed (A*-CPSO+B-Spline)","x":106.9,"y":0.562},{"e":"High","m":"Proposed (A*-CPSO+B-Spline)","x":99.1,"y":0.549},{"e":"High","m":"Proposed (A*-CPSO+B-Spline)","x":97.7,"y":0.23},{"e":"High","m":"Proposed (A*-CPSO+B-Spline)","x":99.9,"y":0.255},{"e":"High","m":"Proposed (A*-CPSO+B-Spline)","x":112.4,"y":0.197},{"e":"High","m":"Proposed (A*-CPSO+B-Spline)","x":121.8,"y":0.179},{"e":"High","m":"Proposed (A*-CPSO+B-Spline)","x":133.1,"y":0.128},{"e":"High","m":"Proposed (A*-CPSO+B-Spline)","x":100.6,"y":0.102},{"e":"High","m":"Proposed (A*-CPSO+B-Spline)","x":116.4,"y":0.051},{"e":"High","m":"Proposed (A*-CPSO+B-Spline)","x":124.3,"y":0.013},{"e":"High","m":"Proposed (A*-CPSO+B-Spline)","x":92.5,"y":0.192},{"e":"High","m":"Proposed (A*-CPSO+B-Spline)","x":106.0,"y":0.197},{"e":"High","m":"Proposed (A*-CPSO+B-Spline)","x":103.5,"y":0.04},{"e":"High","m":"Proposed (A*-CPSO+B-Spline)","x":109.5,"y":0.3},{"e":"High","m":"Proposed (A*-CPSO+B-Spline)","x":118.5,"y":0.12},{"e":"High","m":"Proposed (A*-CPSO+B-Spline)","x":127.5,"y":0.06},
{"e":"High","m":"Risk-A* + DWA","x":164.2,"y":2.486},{"e":"High","m":"Risk-A* + DWA","x":105.8,"y":2.241},{"e":"High","m":"Risk-A* + DWA","x":126.0,"y":2.338},{"e":"High","m":"Risk-A* + DWA","x":105.8,"y":1.993},{"e":"High","m":"Risk-A* + DWA","x":108.5,"y":1.916},{"e":"High","m":"Risk-A* + DWA","x":108.6,"y":1.794},{"e":"High","m":"Risk-A* + DWA","x":130.4,"y":1.809},{"e":"High","m":"Risk-A* + DWA","x":111.6,"y":1.673},{"e":"High","m":"Risk-A* + DWA","x":94.1,"y":1.461},{"e":"High","m":"Risk-A* + DWA","x":104.0,"y":1.349},{"e":"High","m":"Risk-A* + DWA","x":133.9,"y":1.341},{"e":"High","m":"Risk-A* + DWA","x":117.3,"y":1.265},{"e":"High","m":"Risk-A* + DWA","x":121.3,"y":1.29},{"e":"High","m":"Risk-A* + DWA","x":106.1,"y":1.175},{"e":"High","m":"Risk-A* + DWA","x":106.2,"y":1.035},{"e":"High","m":"Risk-A* + DWA","x":116.8,"y":1.048},{"e":"High","m":"Risk-A* + DWA","x":118.4,"y":0.741},{"e":"High","m":"Risk-A* + DWA","x":120.4,"y":0.805},{"e":"High","m":"Risk-A* + DWA","x":190.5,"y":0.754},{"e":"High","m":"Risk-A* + DWA","x":162.9,"y":0.537},{"e":"High","m":"Risk-A* + DWA","x":157.4,"y":0.473},{"e":"High","m":"Risk-A* + DWA","x":160.6,"y":0.383},{"e":"High","m":"Risk-A* + DWA","x":163.5,"y":0.281},{"e":"High","m":"Risk-A* + DWA","x":107.4,"y":0.485},{"e":"High","m":"Risk-A* + DWA","x":105.3,"y":0.562},{"e":"High","m":"Risk-A* + DWA","x":100.6,"y":0.703},{"e":"High","m":"Risk-A* + DWA","x":113.9,"y":0.626},{"e":"High","m":"Risk-A* + DWA","x":125.0,"y":0.58},{"e":"High","m":"Risk-A* + DWA","x":122.4,"y":0.434},{"e":"High","m":"Risk-A* + DWA","x":139.3,"y":0.401},{"e":"High","m":"Risk-A* + DWA","x":129.0,"y":0.358},{"e":"High","m":"Risk-A* + DWA","x":109.2,"y":0.345},{"e":"High","m":"Risk-A* + DWA","x":144.1,"y":0.153},{"e":"High","m":"Risk-A* + DWA","x":137.6,"y":0.026},{"e":"High","m":"Risk-A* + DWA","x":160.3,"y":0.089},{"e":"High","m":"Risk-A* + DWA","x":118.6,"y":0.294},{"e":"High","m":"Risk-A* + DWA","x":112.1,"y":0.294},{"e":"High","m":"Risk-A* + DWA","x":91.9,"y":0.141},{"e":"High","m":"Risk-A* + DWA","x":92.5,"y":0.018},{"e":"High","m":"Risk-A* + DWA","x":100.6,"y":0.064},{"e":"High","m":"Risk-A* + DWA","x":104.2,"y":0.115},{"e":"High","m":"Risk-A* + DWA","x":116.6,"y":0.018},{"e":"High","m":"Risk-A* + DWA","x":124.3,"y":0.089},{"e":"High","m":"Risk-A* + DWA","x":127.2,"y":0.018},{"e":"High","m":"Risk-A* + DWA","x":95.5,"y":0.25},{"e":"High","m":"Risk-A* + DWA","x":98.5,"y":0.02},{"e":"High","m":"Risk-A* + DWA","x":102.5,"y":0.3},{"e":"High","m":"Risk-A* + DWA","x":106.5,"y":0.04},{"e":"High","m":"Risk-A* + DWA","x":110.8,"y":0.12},{"e":"High","m":"Risk-A* + DWA","x":114.5,"y":0.05},{"e":"High","m":"Risk-A* + DWA","x":120.0,"y":0.2},{"e":"High","m":"Risk-A* + DWA","x":126.0,"y":0.03},{"e":"High","m":"Risk-A* + DWA","x":131.0,"y":0.06}
]},
"hconcat": [
{
  "width": 1272, "height": 701,
  "title": "Path Length vs Dose Trade-off — Low Risk Environment",
  "data": {"name": "d"},
  "transform": [{"filter": "datum.e == 'Low'"}],
  "mark": {"type": "circle", "strokeWidth": 0},
  "encoding": {
    "x": {"field": "x", "type": "quantitative", "scale": {"domain": [88.8, 132.8], "nice": false, "zero": false}, "axis": {"values": [90,95,100,105,110,115,120,125,130], "title": "Path Length (m)"}},
    "y": {"field": "y", "type": "quantitative", "scale": {"domain": [-0.0082, 0.1649], "nice": false, "zero": false}, "axis": {"values": [0,0.02,0.04,0.06,0.08,0.1,0.12,0.14,0.16], "format": ".2f", "title": "Total Dose (mSv)"}},
    "color": {"field": "m", "type": "nominal", "title": null, "scale": {"domain": ["Pure A*","Informed RRT*","A*-PSO","A*-Chaotic PSO","Proposed (A*-CPSO+B-Spline)","Risk-A* + DWA"], "range": ["#1f77b4","#2ca02c","#9467bd","#e377c2","#bcbd22","#17becf"]}},
    "size": {"field": "m", "type": "nominal", "title": null, "scale": {"type": "ordinal", "domain": ["Pure A*","Informed RRT*","A*-PSO","A*-Chaotic PSO","Proposed (A*-CPSO+B-Spline)","Risk-A* + DWA"], "range": [576,441,256,196,100,240]}},
    "opacity": {"field": "m", "type": "nominal", "title": null, "scale": {"type": "ordinal", "domain": ["Pure A*","Informed RRT*","A*-PSO","A*-Chaotic PSO","Proposed (A*-CPSO+B-Spline)","Risk-A* + DWA"], "range": [0.4,0.6,0.6,0.7,0.9,0.8]}}
  }
},
{
  "width": 1285, "height": 701,
  "title": "Path Length vs Dose Trade-off — Medium Risk Environment",
  "data": {"name": "d"},
  "transform": [{"filter": "datum.e == 'Medium'"}],
  "mark": {"type": "circle", "strokeWidth": 0},
  "encoding": {
    "x": {"field": "x", "type": "quantitative", "scale": {"domain": [88.8, 186.06], "nice": false, "zero": false}, "axis": {"values": [100,120,140,160,180], "title": "Path Length (m)"}},
    "y": {"field": "y", "type": "quantitative", "scale": {"domain": [-0.0376, 0.789], "nice": false, "zero": false}, "axis": {"values": [0,0.1,0.2,0.3,0.4,0.5,0.6,0.7], "format": ".1f", "title": "Total Dose (mSv)"}},
    "color": {"field": "m", "type": "nominal", "title": null, "scale": {"domain": ["Pure A*","Informed RRT*","A*-PSO","A*-Chaotic PSO","Proposed (A*-CPSO+B-Spline)","Risk-A* + DWA"], "range": ["#1f77b4","#2ca02c","#9467bd","#e377c2","#bcbd22","#17becf"]}},
    "size": {"field": "m", "type": "nominal", "title": null, "scale": {"type": "ordinal", "domain": ["Pure A*","Informed RRT*","A*-PSO","A*-Chaotic PSO","Proposed (A*-CPSO+B-Spline)","Risk-A* + DWA"], "range": [576,441,256,196,100,240]}},
    "opacity": {"field": "m", "type": "nominal", "title": null, "scale": {"type": "ordinal", "domain": ["Pure A*","Informed RRT*","A*-PSO","A*-Chaotic PSO","Proposed (A*-CPSO+B-Spline)","Risk-A* + DWA"], "range": [0.4,0.6,0.6,0.7,0.9,0.8]}}
  }
},
{
  "width": 1284, "height": 701,
  "title": "Path Length vs Dose Trade-off — High Risk Environment",
  "data": {"name": "d"},
  "transform": [{"filter": "datum.e == 'High'"}],
  "mark": {"type": "circle", "strokeWidth": 0},
  "encoding": {
    "x": {"field": "x", "type": "quantitative", "scale": {"domain": [86.9, 199.7], "nice": false, "zero": false}, "axis": {"values": [100,120,140,160,180], "title": "Path Length (m)"}},
    "y": {"field": "y", "type": "quantitative", "scale": {"domain": [-0.189, 3.82], "nice": false, "zero": false}, "axis": {"values": [0,0.5,1,1.5,2,2.5,3,3.5], "format": ".1f", "title": "Total Dose (mSv)"}},
    "color": {"field": "m", "type": "nominal", "title": null, "scale": {"domain": ["Pure A*","Informed RRT*","A*-PSO","A*-Chaotic PSO","Proposed (A*-CPSO+B-Spline)","Risk-A* + DWA"], "range": ["#1f77b4","#2ca02c","#9467bd","#e377c2","#bcbd22","#17becf"]}},
    "size": {"field": "m", "type": "nominal", "title": null, "scale": {"type": "ordinal", "domain": ["Pure A*","Informed RRT*","A*-PSO","A*-Chaotic PSO","Proposed (A*-CPSO+B-Spline)","Risk-A* + DWA"], "range": [576,441,256,196,100,240]}},
    "opacity": {"field": "m", "type": "nominal", "title": null, "scale": {"type": "ordinal", "domain": ["Pure A*","Informed RRT*","A*-PSO","A*-Chaotic PSO","Proposed (A*-CPSO+B-Spline)","Risk-A* + DWA"], "range": [0.4,0.6,0.6,0.7,0.9,0.8]}}
  }
}
],
"resolve": {"scale": {"color": "independent", "size": "independent", "opacity": "independent"}}
}
